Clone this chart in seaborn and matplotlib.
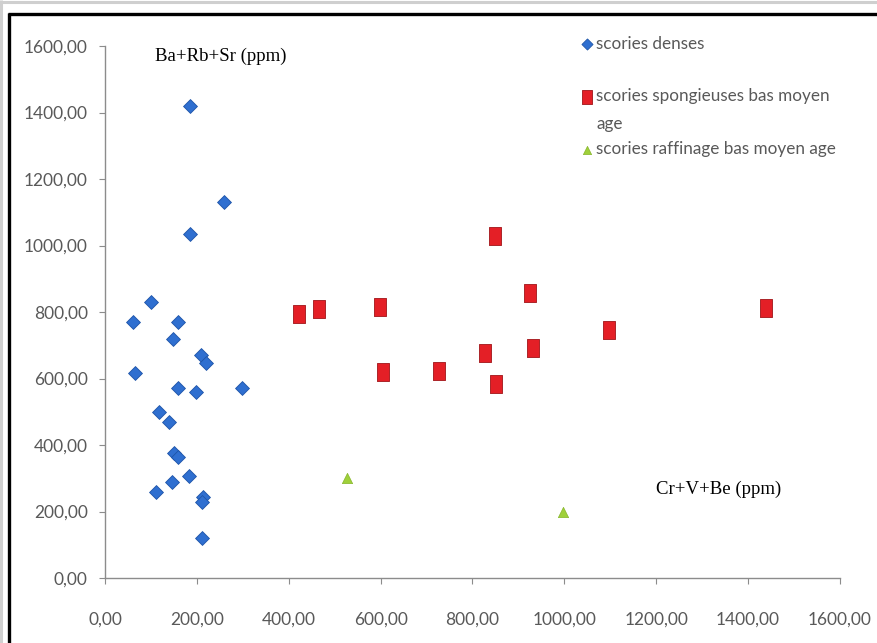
import matplotlib
matplotlib.use("Agg")
import matplotlib.pyplot as plt
from matplotlib.lines import Line2D
from matplotlib.ticker import FuncFormatter, MultipleLocator
import seaborn as sns
import pandas as pd

# scories denses (Cr+V+Be, Ba+Rb+Sr)
denses_x = [185, 260, 185, 100, 60, 160, 148, 210, 220, 65, 158, 198, 298,
            118, 140, 150, 160, 183, 146, 112, 213, 211, 211]
denses_y = [1420, 1130, 1035, 830, 770, 770, 720, 672, 648, 618, 572, 560, 570,
            500, 468, 375, 365, 308, 290, 258, 245, 228, 120]

# scories spongieuses bas moyen age
spong_x = [422, 466, 598, 605, 728, 828, 848, 852, 926, 932, 1097, 1440]
spong_y = [795, 808, 816, 620, 622, 678, 1028, 582, 856, 693, 746, 811]

# scories raffinage bas moyen age
raff_x = [526, 998]
raff_y = [302, 197]

# second label wraps in the original, "age" goes on its own line
labels = ["scories denses",
          "scories spongieuses bas moyen",
          "scories raffinage bas moyen age"]
wrap_tail = "age"

df_denses = pd.DataFrame({"x": denses_x, "y": denses_y})
df_spong = pd.DataFrame({"x": spong_x, "y": spong_y})
df_raff = pd.DataFrame({"x": raff_x, "y": raff_y})

sns.set_style("white")
plt.rcParams["font.family"] = ["Lato", "DejaVu Sans"]

W, H = 878, 643
fig = plt.figure(figsize=(W / 100, H / 100), dpi=100)
fig.patch.set_facecolor("white")
ax = fig.add_axes([105 / W, 1 - 578 / H, (840 - 105) / W, (578 - 46) / H])

# tall rectangle marker like the excel one
rect = [(-0.38, -0.5), (0.38, -0.5), (0.38, 0.5), (-0.38, 0.5), (-0.38, -0.5)]

sns.scatterplot(data=df_denses, x="x", y="y", ax=ax, marker="D", s=50,
                color="#2f6fd0", edgecolor="#1f55a8", linewidth=0.6, label=labels[0], zorder=3)
sns.scatterplot(data=df_spong, x="x", y="y", ax=ax, marker=rect, s=150,
                color="#e41f26", edgecolor="#a01418", linewidth=0.6, label=labels[1], zorder=3)
sns.scatterplot(data=df_raff, x="x", y="y", ax=ax, marker="^", s=55,
                color="#9fd03a", edgecolor="#86b52a", linewidth=0.5, label=labels[2], zorder=3)

ax.set_xlim(0, 1600)
ax.set_ylim(0, 1600)
ax.xaxis.set_major_locator(MultipleLocator(200))
ax.yaxis.set_major_locator(MultipleLocator(200))
fmt = FuncFormatter(lambda v, p: f"{v:.2f}".replace(".", ","))
ax.xaxis.set_major_formatter(fmt)
ax.yaxis.set_major_formatter(fmt)
ax.set_xlabel("")
ax.set_ylabel("")

for s in ["top", "right"]:
    ax.spines[s].set_visible(False)
for s in ["left", "bottom"]:
    ax.spines[s].set_color("#8c8c8c")
    ax.spines[s].set_linewidth(1.0)

ax.tick_params(axis="y", direction="out", length=4.5, width=0.8, color="#8c8c8c",
               labelsize=12.5, labelcolor="#595959", pad=8, left=True)
ax.tick_params(axis="x", direction="out", length=4.5, width=0.8, color="#8c8c8c",
               labelsize=12.5, labelcolor="#595959", pad=20, bottom=True)

ax.text(108, 1570, "Ba+Rb+Sr (ppm)", family="Liberation Serif", fontsize=13.5,
        ha="left", va="center", color="black")
ax.text(1200, 268, "Cr+V+Be (ppm)", family="Liberation Serif", fontsize=13.5,
        ha="left", va="center", color="black")

leg = ax.legend(loc="upper left", bbox_to_anchor=(573 / W, 1 - 27 / H),
                bbox_transform=fig.transFigure, frameon=False, fontsize=12.3,
                handlelength=0.6, handletextpad=0.25, labelspacing=2.15,
                borderpad=0, markerscale=0.8)
for t in leg.get_texts():
    t.set_color("#595959")

# put the wrapped "age" under the second legend label
fig.canvas.draw()
bb = leg.get_texts()[1].get_window_extent()
fig.text(bb.x0 / W, (bb.y0 - 28) / H, wrap_tail, fontsize=12.3, color="#595959",
         ha="left", va="bottom")

# outer frame of the pasted picture
def px_line(x0, y0, x1, y1, color, lw):
    fig.add_artist(Line2D([x0 / W, x1 / W], [1 - y0 / H, 1 - y1 / H],
                          transform=fig.transFigure, color=color, lw=lw,
                          solid_capstyle="butt"))

px_line(1.5, 0, 1.5, H, "#cfcfcf", 2.2)
px_line(0, 2, W, 2, "#cfcfcf", 2.2)
px_line(9.5, 13, 9.5, H, "black", 2.4)
px_line(8, 13.5, W, 13.5, "black", 2.4)

fig.savefig("out.png", dpi=100)
